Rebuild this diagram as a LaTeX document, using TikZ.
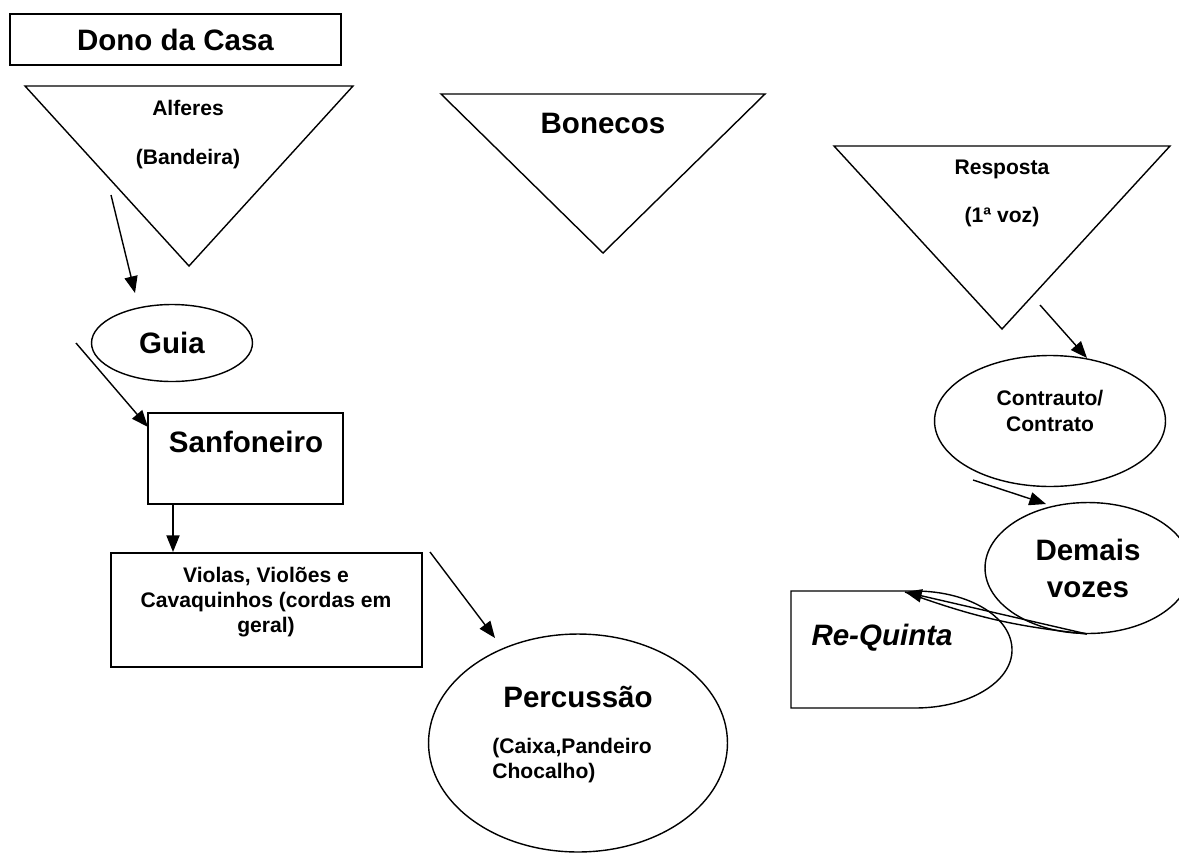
\documentclass[tikz,border=0pt]{standalone}
\usepackage{fontspec}
\setmainfont{Liberation Sans}
\usetikzlibrary{shapes.geometric, arrows.meta, positioning}
\tikzstyle{every node}=[inner sep=0pt]
\tikzstyle{box}=[draw,rectangle,line width=0.8pt]
\tikzstyle{oval}=[draw,ellipse,line width=0.8pt]
\tikzstyle{bigtxt}=[font=\fontsize{16.8}{21}\selectfont\bfseries]
\tikzstyle{smalltxt}=[font=\fontsize{12}{14.4}\selectfont\bfseries]
\tikzstyle{link}=[->,line width=0.8pt]

\begin{document}
\begin{tikzpicture}[x=0.02cm,y=-0.02cm,>={Triangle[length=9.5pt,width=7.5pt]}]
    \useasboundingbox (0,0) rectangle (1179,852);

    % left column
    \node[box,bigtxt,minimum width=6.62cm,minimum height=1.02cm] (dono) at (175.5,39.5) {Dono da Casa};
    \draw[line width=0.8pt] (25,86) -- (353,86) -- (189,266) -- cycle;
    \node[smalltxt] (alferes) at (188,108) {Alferes};
    \node[smalltxt] (bandeira) at (188,159) {(Bandeira)};
    \coordinate (a1) at (111,195);
    \coordinate (a1t) at (135,293);
    \draw[link] (a1) -- (a1t);

    \node[oval,bigtxt,minimum width=3.22cm,minimum height=1.54cm] (guia) at (172,343) {Guia};
    \coordinate (a2) at (76,343);
    \coordinate (a2t) at (148,427);
    \draw[link] (a2) -- (a2t);

    \node[box,minimum width=3.9cm,minimum height=1.82cm] (sanf) at (245.5,458.5) {};
    \node[bigtxt] (sanftxt) at (246,442) {Sanfoneiro};
    \coordinate (a3) at (173,504);
    \coordinate (a3t) at (173,552);
    \draw[link] (a3) -- (a3t);

    \node[box,minimum width=6.22cm,minimum height=2.28cm] (violas) at (266.5,610) {};
    \node[smalltxt,align=center,font=\fontsize{12}{14.3}\selectfont\bfseries] (violastxt) at (266,602) {Violas, Violões e\\Cavaquinhos (cordas em\\geral)};
    \coordinate (a4) at (430,552);
    \coordinate (a4t) at (495,638);
    \draw[link] (a4) -- (a4t);

    \node[oval,minimum width=5.98cm,minimum height=4.36cm] (perc) at (578,743) {};
    \node[bigtxt] (perctxt) at (578,697) {Percussão};
    \node[smalltxt,align=left,anchor=west] (instr) at (492,760.5) {(Caixa,Pandeiro\\Chocalho)};

    % middle
    \draw[line width=0.8pt] (441,94) -- (765,94) -- (603,253) -- cycle;
    \node[bigtxt] (bonecos) at (603,123) {Bonecos};

    % right column
    \draw[line width=0.8pt] (834,146) -- (1170,146) -- (1002,329) -- cycle;
    \node[smalltxt] (resposta) at (1002,169) {Resposta};
    \node[smalltxt] (voz) at (1002,217) {(1ª voz)};
    \coordinate (a5) at (1040,305);
    \coordinate (a5t) at (1087,358);
    \draw[link] (a5) -- (a5t);

    \node[oval,minimum width=4.62cm,minimum height=2.62cm] (contra) at (1050,421) {};
    \node[smalltxt,align=center,font=\fontsize{12}{14.7}\selectfont\bfseries] (contratxt) at (1050,411) {Contrauto/\\Contrato};
    \coordinate (a6) at (973,480);
    \coordinate (a6t) at (1046,504);
    \draw[link] (a6) -- (a6t);

    \node[oval,bigtxt,align=center,minimum width=4.12cm,minimum height=2.62cm] (demais) at (1088,568) {Demais\\vozes};

    \draw[line width=0.8pt] (791,591) -- (915,591)
        .. controls (969,591) and (1012,617) .. (1012,650)
        .. controls (1012,682) and (969,708) .. (915,708) -- (791,708) -- cycle;
    \node[font=\fontsize{16.8}{19}\selectfont\bfseries\itshape] (requinta) at (882,638) {Re-Quinta};
    \coordinate (a7) at (1087,634);
    \coordinate (a7t) at (905,592);
    \draw[link] (a7) -- (a7t);
    \draw[line width=0.8pt] (a7) to[bend left=7] (a7t);
\end{tikzpicture}
\end{document}
